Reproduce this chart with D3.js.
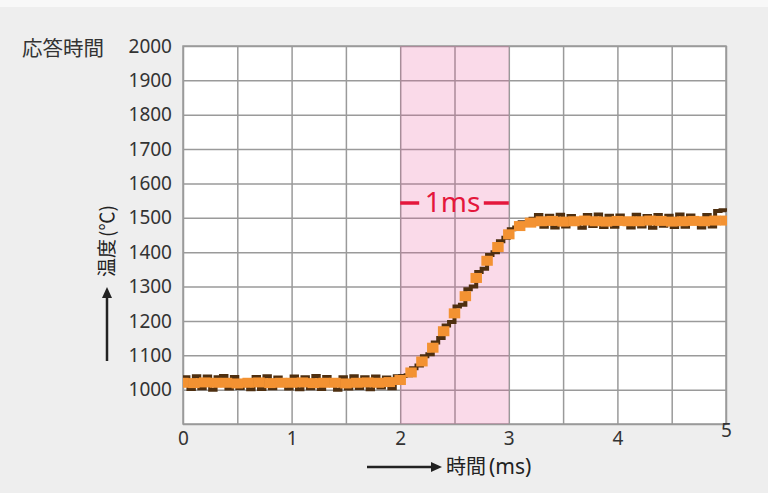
<!DOCTYPE html>
<html><head><meta charset="utf-8">
<script src="https://cdn.jsdelivr.net/npm/d3@7"></script>
<style>html,body{margin:0;padding:0;background:#eeeeee;}svg{display:block;}</style>
</head><body>
<svg id="c" width="768" height="493"></svg>
<script>
// ---- data ----
const xGridValues = [0,0.5,1,1.5,2,2.5,3,3.5,4,4.5,5];
const yGridValues = [900,1000,1100,1200,1300,1400,1500,1600,1700,1800,1900,2000];
const xTickLabels = [0,1,2,3,4,5];
const yTickLabels = [1000,1100,1200,1300,1400,1500,1600,1700,1800,1900,2000];
const bandRange = [2,3];
const bandLabel = "1ms";

// smoothed response (orange), sampled every 0.1 ms
const orangeTime = [0,0.1,0.2,0.3,0.4,0.5,0.6,0.7,0.8,0.9,1.0,1.1,1.2,1.3,1.4,1.5,1.6,1.7,1.8,1.9,
  2.0,2.1,2.2,2.3,2.4,2.5,2.6,2.7,2.8,2.9,3.0,3.1,3.2,
  3.3,3.4,3.5,3.6,3.7,3.8,3.9,4.0,4.1,4.2,4.3,4.4,4.5,4.6,4.7,4.8,4.9,5.0];
const orangeTemp = [1020,1019,1021,1020,1020,1018,1020,1021,1019,1020,1020,1021,1019,1020,1020,1018,1020,1021,1020,1022,
  1028,1050,1082,1122,1170,1222,1272,1325,1375,1415,1452,1476,1486,
  1490,1491,1489,1490,1492,1490,1489,1491,1490,1490,1492,1491,1489,1490,1491,1490,1492,1492];

// raw measurement (dark brown), sampled every 0.05 ms
const brownTime = [0,0.05,0.1,0.15,0.2,0.25,0.3,0.35,0.4,0.45,0.5,0.55,0.6,0.65,0.7,0.75,0.8,0.85,0.9,0.95,
  1.0,1.05,1.1,1.15,1.2,1.25,1.3,1.35,1.4,1.45,1.5,1.55,1.6,1.65,1.7,1.75,1.8,1.85,1.9,1.95,
  2.0,2.05,2.1,2.15,2.2,2.25,2.3,2.35,2.4,2.45,2.5,2.55,2.6,2.65,2.7,2.75,2.8,2.85,2.9,2.95,3.0,3.05,3.1,3.15,3.2,
  3.25,3.3,3.35,3.4,3.45,3.5,3.55,3.6,3.65,3.7,3.75,3.8,3.85,3.9,3.95,4.0,4.05,4.1,4.15,4.2,4.25,4.3,4.35,4.4,4.45,4.5,4.55,4.6,4.65,4.7,4.75,4.8,4.85,
  4.9,4.95,5.0];
const brownTemp = [1036,1002,1039,1004,1038,1000,1036,1040,1003,1037,1005,1020,1001,1037,1002,1039,1004,1035,1020,1003,
  1038,1001,1036,1004,1040,1002,1037,1020,1000,1036,1003,1039,1005,1036,1001,1038,1006,1035,1004,1039,
  1040,1042,1062,1070,1097,1103,1137,1150,1187,1197,1242,1247,1292,1300,1342,1352,1392,1400,1432,1442,1467,1472,1487,1482,1497,
  1508,1474,1506,1472,1509,1475,1505,1490,1471,1508,1476,1510,1473,1506,1474,1507,1490,1472,1509,1475,1505,1471,1508,1477,1506,1473,1510,1474,1507,1490,1472,1508,1475,
  1520,1522,1518];

// ---- drawing ----
const svg = d3.select("#c");
const FONT = "'Noto Sans CJK JP','Noto Sans',sans-serif";
const LAT = "'Noto Sans','Open Sans',sans-serif";
const L = 183, R = 726, T = 46, B = 424;
const x = d3.scaleLinear().domain([0,5]).range([L,R]);
const y = d3.scaleLinear().domain([900,2000]).range([B,T]);

svg.append("rect").attr("x",0).attr("y",0).attr("width",768).attr("height",7).attr("fill","#f8f8f8");
svg.append("rect").attr("x",L).attr("y",T).attr("width",R-L).attr("height",B-T).attr("fill","#ffffff");

// grid
const gx = svg.append("g").attr("transform",`translate(0,${B})`)
  .call(d3.axisBottom(x).tickValues(xGridValues).tickSize(-(B-T)).tickFormat(""));
const gy = svg.append("g").attr("transform",`translate(${L},0)`)
  .call(d3.axisLeft(y).tickValues(yGridValues).tickSize(-(R-L)).tickFormat(""));
[gx,gy].forEach(g=>{
  g.select(".domain").remove();
  g.selectAll(".tick line").attr("stroke","#9a9a9a").attr("stroke-width",1.5);
});
svg.append("rect").attr("x",L).attr("y",T).attr("width",R-L).attr("height",B-T)
  .attr("fill","none").attr("stroke","#9a9a9a").attr("stroke-width",1.5);

// band
svg.append("rect").attr("x",x(bandRange[0])).attr("y",T)
  .attr("width",x(bandRange[1])-x(bandRange[0])).attr("height",B-T)
  .attr("fill","#e8559a").attr("fill-opacity",0.22);

// clip
svg.append("clipPath").attr("id","pc").append("rect")
  .attr("x",L).attr("y",T).attr("width",R-L+1).attr("height",B-T);
const plot = svg.append("g").attr("clip-path","url(#pc)");

const brown = brownTime.map((t,i)=>[t,brownTemp[i]]);
plot.append("path").datum(brown)
  .attr("d", d3.line().x(d=>x(d[0])).y(d=>y(d[1])).curve(d3.curveStepAfter))
  .attr("fill","none").attr("stroke","#4e2f10").attr("stroke-width",4);

const orange = orangeTime.map((t,i)=>[t,orangeTemp[i]]);
const w = x(0.1)-x(0) + 0.6;
plot.selectAll("rect.o").data(orange).enter().append("rect").attr("class","o")
  .attr("x",d=>x(d[0])-w/2).attr("y",d=>y(d[1])-5)
  .attr("width",w).attr("height",10).attr("fill","#f39232");

// tick labels
const xl = svg.append("g").attr("transform",`translate(0,${B})`)
  .call(d3.axisBottom(x).tickValues(xTickLabels).tickSize(0).tickPadding(8).tickFormat(d3.format("d")));
xl.select(".domain").remove();
xl.selectAll("text").attr("font-family",LAT).attr("font-size",19).attr("fill","#333")
  .attr("dy", d=> d===5 ? "0.24em" : "0.71em");
const yl = svg.append("g").attr("transform",`translate(${L},0)`)
  .call(d3.axisLeft(y).tickValues(yTickLabels).tickSize(0).tickPadding(11).tickFormat(d3.format("d")));
yl.select(".domain").remove();
yl.selectAll("text").attr("font-family",LAT).attr("font-size",19).attr("fill","#333");

// titles
svg.append("text").attr("x",22).attr("y",56).attr("font-family",FONT).attr("font-size",20.5)
  .attr("fill","#333").text("応答時間");

// y-axis title
const yt = svg.append("text").attr("transform","translate(114,241) rotate(-90)").attr("text-anchor","middle")
  .attr("font-family",FONT).attr("font-size",19).attr("fill","#222");
yt.append("tspan").text("温度");
yt.append("tspan").attr("dx",2).text("(℃)");
svg.append("line").attr("x1",107).attr("x2",107).attr("y1",361).attr("y2",296)
  .attr("stroke","#222").attr("stroke-width",2.5);
svg.append("path").attr("d","M107,287 L102,298 L112,298 Z").attr("fill","#222");

// x-axis title
svg.append("line").attr("x1",367).attr("x2",432).attr("y1",467).attr("y2",467)
  .attr("stroke","#222").attr("stroke-width",2.5);
svg.append("path").attr("d","M442,467 L431,462 L431,472 Z").attr("fill","#222");
const xt = svg.append("text").attr("x",446).attr("y",474).attr("fill","#222");
xt.append("tspan").attr("font-family",FONT).attr("font-size",20).text("時間");
xt.append("tspan").attr("dx",3).attr("font-family",LAT).attr("font-size",21).text("(ms)");

// band label
const red = "#e4173c";
const cx = (x(bandRange[0])+x(bandRange[1]))/2;
svg.append("line").attr("x1",x(bandRange[0])).attr("x2",x(bandRange[0])+19).attr("y1",203).attr("y2",203)
  .attr("stroke",red).attr("stroke-width",3.5);
svg.append("line").attr("x1",x(bandRange[1])-25).attr("x2",x(bandRange[1])).attr("y1",203).attr("y2",203)
  .attr("stroke",red).attr("stroke-width",3.5);
svg.append("text").attr("x",cx-2).attr("y",212).attr("text-anchor","middle")
  .attr("font-family",LAT).attr("font-size",28).attr("fill",red).text(bandLabel);
</script>
</body></html>
